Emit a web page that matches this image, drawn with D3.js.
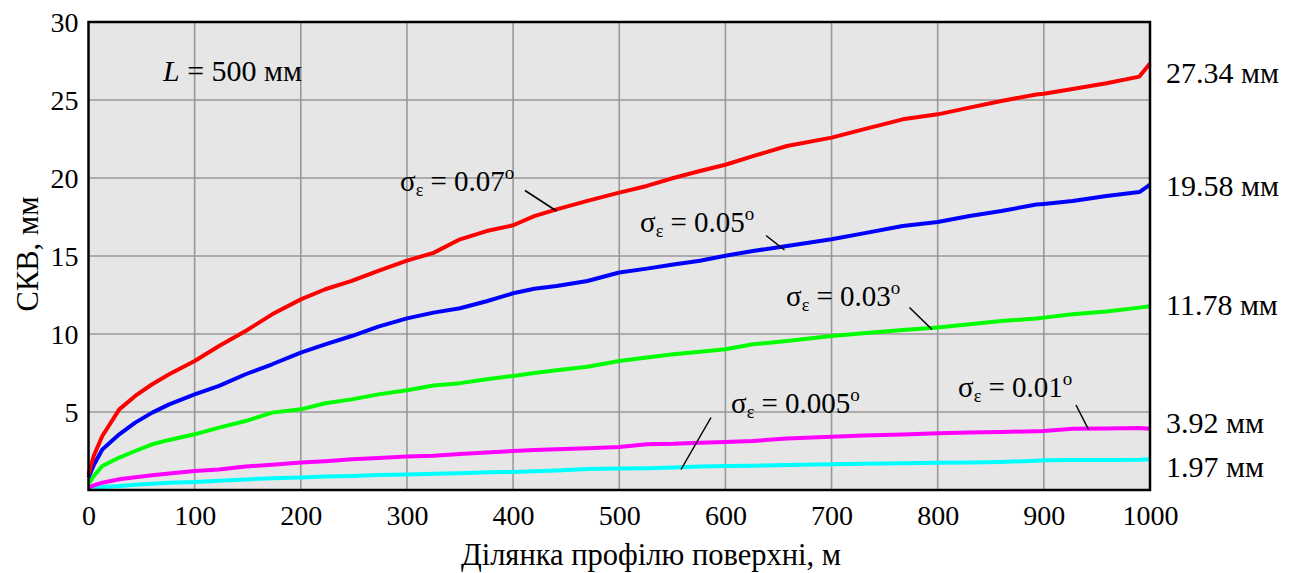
<!DOCTYPE html>
<html>
<head>
<meta charset="utf-8">
<script src="https://cdn.jsdelivr.net/npm/d3@7"></script>
<style>
  html, body { margin: 0; padding: 0; background: #ffffff; }
  svg { display: block; }
  text { font-family: "Liberation Serif", "Times New Roman", serif; fill: #000; }
</style>
</head>
<body>
<svg id="chart" width="1298" height="573"></svg>
<script>
// Profile section length, m
const distance = [0, 5, 13, 29, 44, 60, 76, 100, 123, 148, 173, 200, 223, 248, 273, 300,
  325, 350, 375, 400, 420, 441, 470, 500, 526, 551, 576, 600, 626, 658, 700, 730, 767,
  800, 830, 860, 893, 900, 927, 959, 990, 1000];

// RMS error, mm, for each angular error σε
const rms007 = [1.0, 2.2, 3.46, 5.17, 6.03, 6.78, 7.42, 8.27, 9.23, 10.19, 11.26, 12.22, 12.87,
  13.4, 14.04, 14.7, 15.2, 16.07, 16.6, 16.97, 17.56, 17.99, 18.53, 19.06, 19.49, 20.0, 20.45,
  20.85, 21.4, 22.05, 22.59, 23.12, 23.76, 24.08, 24.51, 24.94, 25.35, 25.4, 25.7, 26.07, 26.5, 27.34];
const rms005 = [0.8, 1.6, 2.6, 3.57, 4.32, 4.96, 5.49, 6.13, 6.67, 7.42, 8.06, 8.81, 9.34,
  9.87, 10.47, 11.0, 11.37, 11.65, 12.1, 12.61, 12.9, 13.08, 13.4, 13.94, 14.19, 14.45, 14.7,
  15.02, 15.32, 15.64, 16.07, 16.45, 16.92, 17.18, 17.56, 17.88, 18.3, 18.34, 18.53, 18.85, 19.1, 19.58];
const rms003 = [0.4, 0.9, 1.54, 2.08, 2.5, 2.93, 3.21, 3.57, 4.0, 4.42, 4.96, 5.17, 5.56,
  5.81, 6.13, 6.4, 6.7, 6.85, 7.1, 7.31, 7.5, 7.68, 7.9, 8.27, 8.5, 8.7, 8.86,
  9.02, 9.34, 9.55, 9.87, 10.05, 10.26, 10.41, 10.62, 10.83, 11.0, 11.05, 11.26, 11.44, 11.69, 11.78];
const rms001 = [0.15, 0.3, 0.47, 0.69, 0.82, 0.94, 1.06, 1.22, 1.32, 1.5, 1.62, 1.76, 1.85,
  1.97, 2.05, 2.14, 2.2, 2.3, 2.4, 2.5, 2.56, 2.62, 2.67, 2.76, 2.93, 2.96, 3.03,
  3.08, 3.14, 3.3, 3.42, 3.5, 3.55, 3.63, 3.68, 3.72, 3.77, 3.78, 3.93, 3.94, 3.98, 3.92];
const rms0005 = [0.1, 0.15, 0.2, 0.26, 0.34, 0.4, 0.46, 0.51, 0.6, 0.68, 0.76, 0.8, 0.86,
  0.9, 0.96, 1.0, 1.04, 1.08, 1.13, 1.16, 1.2, 1.25, 1.35, 1.38, 1.4, 1.44, 1.5,
  1.54, 1.56, 1.6, 1.65, 1.68, 1.72, 1.74, 1.77, 1.8, 1.88, 1.9, 1.92, 1.93, 1.94, 1.97];

const seriesColors = ["#ff0000", "#0000ff", "#00ff00", "#ff00ff", "#00ffff"];
const seriesValues = [rms007, rms005, rms003, rms001, rms0005];
const sigmaLabels = ["0.07", "0.05", "0.03", "0.01", "0.005"];

const xTicks = [0, 100, 200, 300, 400, 500, 600, 700, 800, 900, 1000];
const yTicks = [5, 10, 15, 20, 25, 30];

const xTitle = "Ділянка профілю поверхні, м";
const yTitle = "СКВ, мм";

const svg = d3.select("#chart");
const plot = { left: 88.5, right: 1150, top: 22, bottom: 490 };

const x = d3.scaleLinear().domain([0, 1000]).range([plot.left, plot.right]);
const y = d3.scaleLinear().domain([0, 30]).range([plot.bottom, plot.top]);

// plot background
svg.append("rect")
  .attr("x", plot.left).attr("y", plot.top)
  .attr("width", plot.right - plot.left).attr("height", plot.bottom - plot.top)
  .attr("fill", "#e6e6e6");

// grid
const grid = svg.append("g").attr("stroke", "#999999").attr("stroke-width", 1.6);
grid.selectAll("line.v").data(xTicks.slice(1, -1)).join("line")
  .attr("x1", d => x(d)).attr("x2", d => x(d))
  .attr("y1", plot.top).attr("y2", plot.bottom);
grid.selectAll("line.h").data(yTicks.slice(0, -1)).join("line")
  .attr("y1", d => y(d)).attr("y2", d => y(d))
  .attr("x1", plot.left).attr("x2", plot.right);

// curves
const line = d3.line()
  .x((d, i) => x(distance[i]))
  .y(d => y(d))
  .curve(d3.curveLinear);

const curves = svg.append("g");
seriesValues.slice().reverse().forEach((vals, k) => {
  const idx = seriesValues.length - 1 - k;
  curves.append("path")
    .datum(vals)
    .attr("d", line)
    .attr("fill", "none")
    .attr("stroke", seriesColors[idx])
    .attr("stroke-width", 4)
    .attr("stroke-linejoin", "round");
});

// frame
svg.append("rect")
  .attr("x", plot.left).attr("y", plot.top)
  .attr("width", plot.right - plot.left).attr("height", plot.bottom - plot.top)
  .attr("fill", "none").attr("stroke", "#000").attr("stroke-width", 2.5);

// axes tick labels
const xAxis = d3.axisBottom(x).tickValues(xTicks).tickSize(0).tickPadding(0).tickFormat(d3.format("d"));
const gx = svg.append("g").attr("transform", `translate(0,${plot.bottom})`).call(xAxis);
gx.select(".domain").remove();
gx.selectAll("text").attr("font-size", 28).attr("dy", null).attr("y", 35)
  .style("font-family", "'Liberation Serif', serif").attr("fill", "#000");

const yAxis = d3.axisLeft(y).tickValues(yTicks).tickSize(0).tickPadding(0).tickFormat(d3.format("d"));
const gy = svg.append("g").attr("transform", `translate(${plot.left},0)`).call(yAxis);
gy.select(".domain").remove();
gy.selectAll("text").attr("font-size", 28).attr("x", -10).attr("dy", "0.33em")
  .style("font-family", "'Liberation Serif', serif").attr("fill", "#000");

// axis titles
svg.append("text")
  .attr("x", 651).attr("y", 565)
  .attr("text-anchor", "middle").attr("font-size", 30.5)
  .text(xTitle);
svg.append("text")
  .attr("transform", `translate(38,254) rotate(-90)`)
  .attr("text-anchor", "middle").attr("font-size", 30.5)
  .text(yTitle);

// parameter note
const note = svg.append("text").attr("x", 163).attr("y", 81).attr("font-size", 30);
note.append("tspan").attr("font-style", "italic").text("L");
note.append("tspan").text(" = 500 мм");

// end-value labels, taken from the last point of each series
const endLabelY = [83, 196, 315, 433, 477];
seriesValues.forEach((vals, i) => {
  svg.append("text")
    .attr("x", 1166).attr("y", endLabelY[i])
    .attr("font-size", 30)
    .text(d3.format(".2f")(vals[vals.length - 1]) + " мм");
});

// curve annotations with leader lines
const annotations = [
  { s: 0, tx: 400, ty: 191, l: [525, 190.5, 556.5, 211] },
  { s: 1, tx: 640, ty: 232, l: [766, 235.5, 784.5, 250] },
  { s: 2, tx: 786, ty: 306, l: [909.5, 307.5, 932, 329.5] },
  { s: 3, tx: 958, ty: 397, l: [1076, 405, 1088.5, 429.5] },
  { s: 4, tx: 731, ty: 413, l: [711, 417.5, 681, 469.5] }
];
annotations.forEach(a => {
  const t = svg.append("text").attr("x", a.tx).attr("y", a.ty).attr("font-size", 29);
  t.append("tspan").text("σ");
  t.append("tspan").attr("font-size", 18).attr("dy", 5).text("ε");
  t.append("tspan").attr("dy", -5).text(" = " + sigmaLabels[a.s]);
  t.append("tspan").attr("font-size", 19).attr("dy", -12).text("o");
  svg.append("line")
    .attr("x1", a.l[0]).attr("y1", a.l[1]).attr("x2", a.l[2]).attr("y2", a.l[3])
    .attr("stroke", "#000").attr("stroke-width", 1.5);
});
</script>
</body>
</html>
